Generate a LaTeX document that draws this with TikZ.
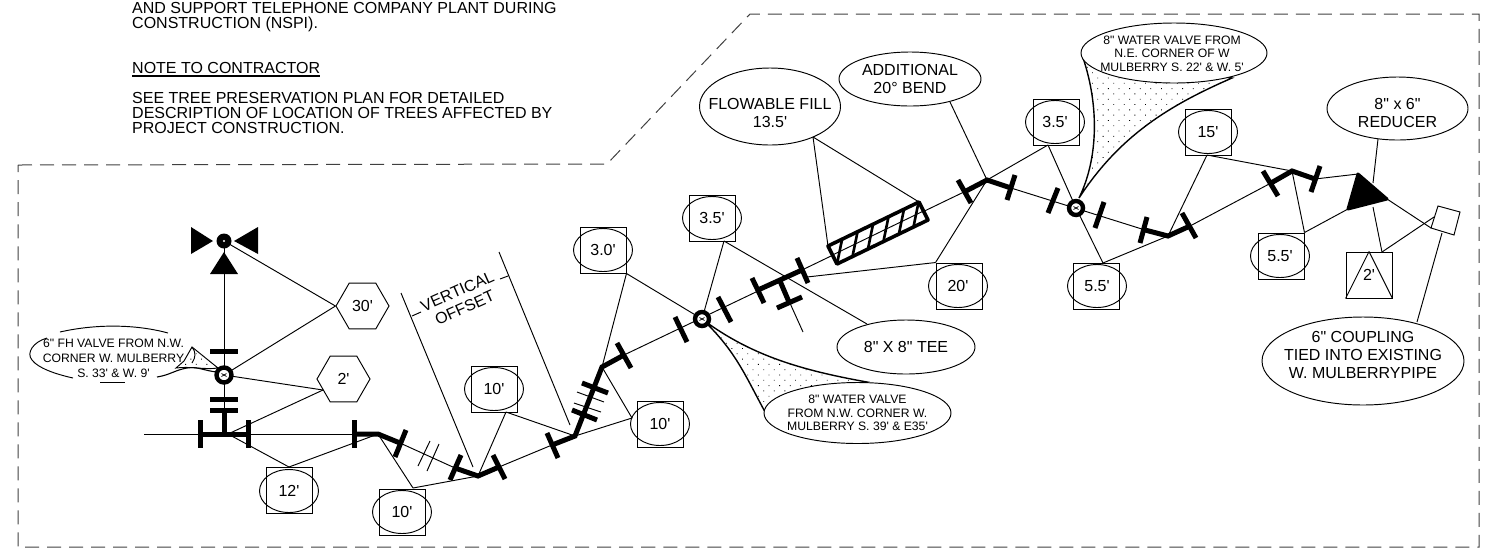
\documentclass[tikz,border=0pt]{standalone}
\usepackage{fontspec}
\setmainfont{Liberation Sans}[Ligatures=TeXOff]
\usetikzlibrary{shapes.geometric,patterns.meta,calc}
\tikzset{
  thinl/.style={line width=0.95pt,black},
  pipe/.style={line width=5pt,black},
  bigtxt/.style={font=\fontsize{16}{18}\selectfont,align=center,inner sep=0pt},
  smalltxt/.style={font=\fontsize{12.2}{13.5}\selectfont,align=center,inner sep=0pt},
  notetxt/.style={font=\fontsize{16}{15}\selectfont,align=left,inner sep=0pt,anchor=north west},
  oval/.style={ellipse,draw,thinl,inner sep=0pt,minimum width=#1},
  ovalfill/.style={oval=#1,fill=white},
  boxs/.style={rectangle,draw,thinl,minimum size=46pt,inner sep=0pt},
  lab/.style={ellipse,draw,thinl,minimum width=59pt,minimum height=43pt,inner sep=0pt,font=\fontsize{16}{18}\selectfont},
  hexs/.style={regular polygon,regular polygon sides=6,draw,thinl,minimum size=53pt,inner sep=0pt,font=\fontsize{16}{18}\selectfont},
  border/.style={line width=1pt,black!75,dash pattern=on 14pt off 8pt},
  dotted area/.style={pattern={Dots[radius=0.6pt,distance=7.5pt,angle=45]},pattern color=black},
  valve/.style={circle,draw,line width=4.4pt,fill=white,minimum size=14pt,inner sep=0pt},
}
\begin{document}
\begin{tikzpicture}[x=1pt,y=-1pt]
\useasboundingbox (0,0) rectangle (1486,550);
% ---------- border
\coordinate (bA) at (18,165);\coordinate (bB) at (607,164);\coordinate (bC) at (750,14);
\coordinate (bD) at (1479,14);\coordinate (bE) at (1479,547);\coordinate (bF) at (18,547);
\draw[border] (bA) -- (bB) -- (bC) -- (bD) -- (bE) -- (bF) -- cycle;
% ---------- notes
\node[notetxt] (n1) at (132,2) {AND SUPPORT TELEPHONE COMPANY PLANT DURING\\CONSTRUCTION (NSPI).};
\node[notetxt] (n2) at (132,62) {NOTE TO CONTRACTOR};
\draw[line width=2.2pt] ($(n2.south west)+(0,2)$) -- ($(n2.south east)+(0,2)$);
\node[notetxt] (n3) at (132,92) {SEE TREE PRESERVATION PLAN FOR DETAILED\\DESCRIPTION OF LOCATION OF TREES AFFECTED BY\\PROJECT CONSTRUCTION.};
% ---------- junction points
\coordinate (start) at (144,434);
\coordinate (tee1) at (224,434);
\coordinate (f1) at (200,434);\coordinate (f2) at (248,434);
\coordinate (f3) at (354,434);\coordinate (bend1) at (378,434);
\coordinate (f4) at (400,443);\coordinate (f5) at (455,468);
\coordinate (bend2) at (478,476);\coordinate (f6) at (499,467);
\coordinate (f7) at (552,445);\coordinate (bend3) at (575,436);
\coordinate (bend4) at (602,367);\coordinate (f10) at (624,355);
\coordinate (v3) at (702,319);
\coordinate (f13) at (758,290);\coordinate (f14) at (802,270);
\coordinate (tee2) at (780,281);\coordinate (tee2s) at (789,302);\coordinate (tee2e) at (803,332);
\coordinate (hA) at (828,246);\coordinate (hB) at (837,264);\coordinate (hC) at (928,220);\coordinate (hD) at (919,202);
\coordinate (f15) at (966,191);\coordinate (bend5) at (987,180);\coordinate (f16) at (1011,188);
\coordinate (v4) at (1076,208);
\coordinate (f19) at (1145,230);\coordinate (bend6) at (1168,236);\coordinate (f20) at (1190,226);
\coordinate (f21) at (1271,183);\coordinate (bend7) at (1292,171);\coordinate (f22) at (1315,179);
\coordinate (rA) at (1358,174);\coordinate (rB) at (1387,199);\coordinate (rC) at (1348,209);
\coordinate (cA) at (1438,206);\coordinate (cB) at (1460,212);\coordinate (cC) at (1454,235);\coordinate (cD) at (1431,228);
\coordinate (v1) at (224,375);\coordinate (v0) at (224,241);
% ---------- thin pipe
\draw[thinl] (start) -- (f3);
\draw[thinl] (tee1) -- (v0);
\draw[thinl] (f4) -- (f5);
\draw[thinl] (f6) -- (f7);
\draw[thinl] (f10) -- (f14);
\draw[thinl] (tee2) -- (tee2e);
\draw[thinl] (f14) -- (f15);
\draw[thinl] (f16) -- (f19);
\draw[thinl] (f20) -- (f21);
\draw[thinl] (f22) -- (rA);
\draw[thinl] (rB) -- (cD);
% ---------- leaders
\coordinate (t2r) at (1373,183);\coordinate (t2s) at (1373,207);
\coordinate (c2a) at (1434,217);
\node[boxs] (b12) at (289,490) {};
\node[boxs] (b10a) at (402,512) {};
\node[boxs] (b10b) at (494,389) {};
\node[boxs] (b10c) at (660,424) {};
\node[boxs] (b30) at (603,250) {};
\node[boxs] (b35a) at (712,218) {};
\node[boxs] (b20) at (959,286) {};
\node[boxs] (b35b) at (1056,122) {};
\node[boxs] (b55a) at (1096,286) {};
\node[boxs] (b15) at (1208,132) {};
\node[boxs] (b55b) at (1281,256) {};
\node[boxs] (b2) at (1369,275) {};
\node[hexs] (h30) at (362.5,306) {30'};
\node[hexs] (h2) at (343.5,379) {2'};
\coordinate (e12) at (289,467);
\coordinate (e10a) at (413,488);
\coordinate (e10b) at (506,412);
\coordinate (e10c) at (632,418);
\coordinate (e35a) at (724,241);
\coordinate (e35b) at (1048,145);
\coordinate (e15) at (1207,155);
\coordinate (e55a) at (1103,263);
\coordinate (e2) at (1382,252);
\coordinate (f14b) at (807,277);
\coordinate (teeL) at (867,324);
\coordinate (flowL) at (813,137);
\coordinate (addL) at (950,102);
\coordinate (redL) at (1378,139);
\coordinate (coupL) at (1417,322);
\coordinate (coupM) at (1442,233);
\coordinate (h2c) at (323,390);
\coordinate (tee1b) at (228,434);
\draw[thinl] (v0) -- (h30.west);
\draw[thinl] (v1) -- (h30.west);
\draw[thinl] (v1) -- (h2c);
\draw[thinl] (h2c) -- (tee1b);
\draw[thinl] (tee1b) -- (e12);
\draw[thinl] (e12) -- (bend1);
\draw[thinl] (bend1) -- (e10a);
\draw[thinl] (e10a) -- (bend2);
\draw[thinl] (bend2) -- (e10b);
\draw[thinl] (e10b) -- (bend3);
\draw[thinl] (bend3) -- (e10c);
\draw[thinl] (e10c) -- (bend4);
\draw[thinl] (bend4) -- (b30.south east);
\draw[thinl] (b30.south east) -- (v3);
\draw[thinl] (v3) -- (e35a);
\draw[thinl] (e35a) -- (teeL);
\draw[thinl] (f14b) -- (b20.north west);
\draw[thinl] (b20.north west) -- (bend5);
\draw[thinl] (bend5) -- (e35b);
\draw[thinl] (e35b) -- (v4);
\draw[thinl] (v4) -- (e55a);
\draw[thinl] (e55a) -- (bend6);
\draw[thinl] (bend6) -- (e15);
\draw[thinl] (e15) -- (bend7);
\draw[thinl] (bend7) -- (b55b.north east);
\draw[thinl] (b55b.north east) -- (rC);
\draw[thinl] (t2s) -- (e2);
\draw[thinl] (e2) -- (c2a);
\draw[thinl] (redL) -- (t2r);
\draw[thinl] (coupM) -- (coupL);
\draw[thinl] (flowL) -- (hA);
\draw[thinl] (flowL) -- (hD);
\draw[thinl] (addL) -- (bend5);
% ---------- vertical offset
\coordinate (vA) at (401,293);\coordinate (vB) at (473,467);\coordinate (vC) at (499,252);\coordinate (vD) at (570,425);
\draw[thinl] (vA) -- (vB);
\draw[thinl] (vC) -- (vD);
\draw[thinl] (412,316) -- (421,312);
\draw[thinl] (500,279) -- (508,276);
\node[bigtxt,rotate=24] (vt) at (461,299.5) {VERTICAL\\OFFSET};
% ---------- hash marks
\draw[thinl] (418,466) -- (430,441);
\draw[thinl] (427,471) -- (439,444);
\draw[thinl] (577,392) -- (604,402);
\draw[thinl] (574,403) -- (601,412);
% ---------- thick pipe pieces
\draw[pipe] (f1) -- (f2);
\draw[pipe] (tee1) -- (224,410);
\draw[pipe] (200,420) -- (200,448);
\draw[pipe] (248,420) -- (248,448);
\draw[pipe] (210,410) -- (238,410);
\draw[pipe] (210,399) -- (238,399);
\draw[pipe] (210,351) -- (238,351);
\draw[pipe] (354,420) -- (354,448);
\draw[pipe] (f3) -- (bend1) -- (f4);
\draw[pipe] (406,430) -- (395,457);
\draw[pipe] (461,455) -- (450,480);
\draw[pipe] (f5) -- (bend2) -- (f6);
\draw[pipe] (493,455) -- (505,479);
\draw[pipe] (547,433) -- (558,458);
\draw[pipe] (f7) -- (bend3) -- (bend4) -- (f10);
\draw[pipe] (572,410) -- (597,420);
\draw[pipe] (582,383) -- (608,393);
\draw[pipe] (617,343) -- (631,368);
\draw[pipe] (675,317) -- (687,342);
\draw[pipe] (718,297) -- (731,322);
\draw[pipe] (752,278) -- (764,303);
\draw[pipe] (797,258) -- (808,283);
\draw[pipe] (f13) -- (f14);
\draw[pipe] (tee2) -- (tee2s);
\draw[pipe] (777,308) -- (802,297);
\draw[pipe] (958,180) -- (971,203);
\draw[pipe] (f15) -- (bend5) -- (f16);
\draw[pipe] (1015,175) -- (1007,200);
\draw[pipe] (1058,188) -- (1048,213);
\draw[pipe] (1104,202) -- (1095,228);
\draw[pipe] (1147,217) -- (1140,243);
\draw[pipe] (f19) -- (bend6) -- (f20);
\draw[pipe] (1182,213) -- (1196,238);
\draw[pipe] (1263,171) -- (1278,196);
\draw[pipe] (f21) -- (bend7) -- (f22);
\draw[pipe] (1320,166) -- (1311,192);
% ---------- hatched block
\fill[white] (hA) -- (hB) -- (hC) -- (hD) -- cycle;
\draw[thinl] ($(hA)!.5!(hB)$) -- ($(hD)!.5!(hC)$);
\foreach \t in {0,.17,.34,.51,.68,.84}{
  \draw[line width=2.6pt] ($(hB)!\t!(hC)$) -- ($(hA)!{\t+.155}!(hD)$);
}
\draw[line width=3.6pt,line join=round] (hA) -- (hB) -- (hC) -- (hD) -- cycle;
% ---------- reducer, coupling
\fill[line join=round,draw=black,line width=3pt] (rA) -- (rB) -- (rC) -- cycle;
\draw[thinl,fill=white] (cA) -- (cB) -- (cC) -- (cD) -- cycle;
% ---------- hydrant head
\fill (v0) circle (7.5pt);
\fill[white] (v0) circle (1.2pt);
\coordinate (tl1) at (191,227);\coordinate (tl2) at (191,254);\coordinate (tl3) at (213,241);
\coordinate (tr1) at (258,227);\coordinate (tr2) at (258,254);\coordinate (tr3) at (234,241);
\coordinate (tu1) at (210,274);\coordinate (tu2) at (238,274);\coordinate (tu3) at (224,252);
\fill (tl1) -- (tl2) -- (tl3) -- cycle;
\fill (tr1) -- (tr2) -- (tr3) -- cycle;
\fill (tu1) -- (tu2) -- (tu3) -- cycle;
% ---------- callout dotted wedges
\draw[line width=1.4pt,dotted area] (v3) .. controls (735,350) and (745,375) .. (764,410)
  -- (867,382) .. controls (800,370) and (750,355) .. (v3);
\draw[line width=1.4pt,dotted area] (1079,198) .. controls (1100,155) and (1098,100) .. (1082,55)
  -- (1232,78) .. controls (1170,105) and (1120,135) .. (1079,198);
\draw[thinl,dotted area] (192,347) -- (218,368) .. controls (205,370) and (190,366) .. (176,368) -- (184,361) -- cycle;
\draw[line width=1.1pt] (157,377) .. controls (170,375) and (175,370) .. (187,368) .. controls (197,366) and (205,371) .. (217,372);
% ---------- valves
\node[valve,minimum size=15pt] (valve1) at (v1) {};
\node[valve] (valve3) at (v3) {};
\node[valve] (valve4) at (v4) {};
\foreach \v in {v1,v3,v4}{
  \draw[line width=.7pt] ($(\v)+(-2.5,-1.5)$) -- ($(\v)+(2.5,1.5)$);
  \draw[line width=.7pt] ($(\v)+(-2.5,1.5)$) -- ($(\v)+(2.5,-1.5)$);
}
% ---------- FH callout
\coordinate (fa) at (60,332);\coordinate (fb) at (168,333);
\draw[thinl] (fa) .. controls (95,324) and (135,324) .. (fb);
\coordinate (fc) at (47,338);\coordinate (fd) at (73,378);
\draw[thinl] (fc) .. controls (33,342) and (26,353) .. (32,360) .. controls (38,368) and (55,374) .. (fd);
\coordinate (fe) at (100,382);\coordinate (ff) at (125,382);
\draw[thinl] (fe) -- (ff);
\draw[thinl] (192,347) .. controls (196,352) and (196,357) .. (192,363);
\node[smalltxt,font=\fontsize{12.2}{15}\selectfont] (fhtext) at (113.5,358) {6" FH VALVE FROM N.W.\\CORNER W. MULBERRY\\S. 33' \& W. 9'};
% ---------- ovals (shape first, then its text)
\node[ovalfill=187pt,minimum height=61pt] (wv1) at (857.5,413) {};
\node[smalltxt] (wv1t) at (wv1) {8" WATER VALVE\\FROM N.W. CORNER W.\\MULBERRY S. 39' \& E35'};
\node[ovalfill=186pt,minimum height=60pt] (wv2) at (1174,53) {};
\node[smalltxt] (wv2t) at (1172,53.5) {8" WATER VALVE FROM\\N.E. CORNER OF W\\MULBERRY S. 22' \& W. 5'};
\node[oval=141pt,minimum height=77pt] (flow) at (770,106.5) {};
\node[bigtxt] (flowt) at (770,113) {FLOWABLE FILL\\13.5'};
\node[oval=142pt,minimum height=54pt] (add) at (910,79) {};
\node[bigtxt] (addt) at (add) {ADDITIONAL\\20° BEND};
\node[oval=138pt,minimum height=54pt] (tee) at (906,347) {};
\node[bigtxt] (teet) at (tee) {8" X 8" TEE};
\node[oval=141pt,minimum height=63pt] (red) at (1397.5,108.5) {};
\node[bigtxt] (redt) at (1397.5,113) {8" x 6"\\REDUCER};
\node[oval=202pt,minimum height=88pt] (coup) at (1363,361) {};
\node[bigtxt] (coupt) at (1363,355) {6" COUPLING\\TIED INTO EXISTING\\W. MULBERRYPIPE};
% ---------- size labels
\node[lab] (l12) at (289,491) {12'};
\node[lab] (l10a) at (402,512) {10'};
\node[lab] (l10b) at (494,389) {10'};
\node[lab] (l10c) at (660,424) {10'};
\node[lab] (l30) at (603,250) {3.0'};
\node[lab] (l35a) at (712,218) {3.5'};
\node[lab] (l20) at (958,286) {20'};
\node[lab] (l35b) at (1055,122) {3.5'};
\node[lab] (l55a) at (1097,286) {5.5'};
\node[lab] (l15) at (1208,132) {15'};
\node[lab] (l55b) at (1280,256) {5.5'};
\draw[thinl] (b2.north) -- (b2.south west);
\draw[thinl] (b2.north) -- (b2.south east);
\node[inner sep=0pt,font=\fontsize{16}{18}\selectfont] (l2) at (1369,275) {2'};
\end{tikzpicture}
\end{document}
